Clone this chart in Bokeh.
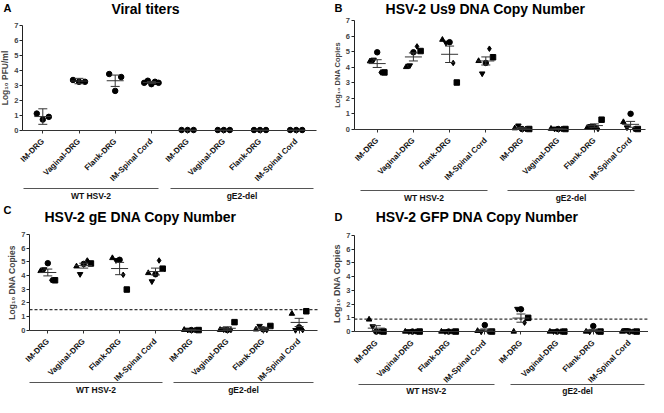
import math
from bokeh.plotting import figure
from bokeh.layouts import column, row
from bokeh.models import Label, ColumnDataSource, FixedTicker, LinearAxis
from bokeh.embed import file_html
from bokeh.resources import INLINE

FONT = "Liberation Sans"

# ---------------- data ----------------
categories = ["IM-DRG", "Vaginal-DRG", "Flank-DRG", "IM-Spinal Cord",
              "IM-DRG", "Vaginal-DRG", "Flank-DRG", "IM-Spinal Cord"]
groups = ["WT HSV-2", "gE2-del"]
y_ticks = [0, 1, 2, 3, 4, 5, 6, 7]
animal_markers = ["triangle", "inverted_triangle", "circle", "diamond", "square"]

titles = ["Viral titers", "HSV-2 Us9 DNA Copy Number",
          "HSV-2 gE DNA Copy Number", "HSV-2 GFP DNA Copy Number"]
letters = ["A", "B", "C", "D"]
y_labels = ["Log\u2081\u2080 PFU/ml", "Log\u2081\u2080 DNA Copies",
            "Log\u2081\u2080 DNA Copies", "Log\u2081\u2080 DNA Copies"]

# Panel A: viral titers (circles)
a_values = [[1.1, 0.7, 0.88], [3.35, 3.23, 3.23], [3.75, 2.62, 3.55],
            [3.16, 3.3, 3.07, 3.23, 3.16],
            [0, 0, 0], [0, 0, 0], [0, 0, 0], [0, 0, 0]]
a_mean = [0.9, 3.28, 3.3, 3.18, 0, 0, 0, 0]
a_err = [0.52, 0.18, 0.38, 0.07, 0, 0, 0, 0]

# Panel B: Us9 copies (per animal: triangle, inv. triangle, circle, diamond, square)
b_values = [[4.37, 4.47, 4.95, 3.65, 3.65], [4.0, 4.1, 4.95, 5.33, 5.03],
            [5.76, 5.56, 5.6, 4.26, 3.0], [4.39, 3.58, 4.26, 5.18, 4.63],
            [0.05, 0.22, 0.0, 0.0, 0.0], [0.02, 0.02, 0.0, 0.0, 0.0],
            [0.08, 0.18, 0.12, 0.0, 0.6], [0.45, 0.1, 0.98, 0.0, 0.0]]
b_mean = [4.22, 4.65, 4.82, 4.39, 0.05, 0.01, 0.22, 0.3]
b_err = [0.25, 0.26, 0.53, 0.26, 0.04, 0.01, 0.11, 0.19]

# Panel C: gE copies
c_values = [[4.33, 4.45, 4.9, 3.65, 3.65], [4.67, 4.1, 4.85, 5.1, 4.88],
            [5.28, 5.12, 5.15, 4.05, 2.97], [4.18, 3.57, 4.09, 5.1, 4.5],
            [0.02, 0.02, 0.0, 0.0, 0.0], [0.02, 0.05, 0.0, 0.0, 0.58],
            [0.05, 0.3, 0.05, 0.0, 0.3], [1.2, 0.0, 0.2, 0.0, 1.38]]
c_mean = [4.22, 4.72, 4.51, 4.29, 0.01, 0.13, 0.14, 0.56]
c_err = [0.25, 0.18, 0.45, 0.25, 0.01, 0.11, 0.07, 0.3]
c_cutoff = 1.5

# Panel D: GFP copies
d_values = [[0.88, 0.38, 0.0, 0.0, 0.0], [0.0, 0.02, 0.0, 0.0, 0.0],
            [0.0, 0.02, 0.0, 0.0, 0.0], [0.05, 0.0, 0.47, 0.0, 0.0],
            [0.0, 1.65, 1.62, 0.65, 1.0], [0.0, 0.02, 0.0, 0.0, 0.0],
            [0.0, 0.0, 0.4, 0.0, 0.0], [0.0, 0.1, 0.0, 0.0, 0.0]]
d_mean = [0.25, 0.0, 0.0, 0.1, 0.98, 0.0, 0.08, 0.02]
d_err = [0.18, 0.0, 0.0, 0.09, 0.3, 0.0, 0.08, 0.02]
d_cutoff = 0.9

# ---------------- layout: positions measured on the 664x413 design ----------------
# ox/oy: design origin of the panel, sx/sy: design->canvas scale, w/h: canvas size
layouts = [
    dict(ox=0, oy=0, sx=1.0, sy=1.0, w=332, h=203, yaxis=22, tick1=42.3, step=36.2,
         xend=316, y7=25, y0=129.5, title=(145, 8.5), letter=(3, 7.5), gline=188,
         glabel=196, wt=(23, 158), ge=(170, 313), ylab=8.5),
    dict(ox=332, oy=0, sx=1.0, sy=1.0, w=316, h=203, yaxis=353.5, tick1=376.7, step=36.2,
         xend=645, y7=20, y0=128.5, title=(485, 8.5), letter=(334, 7.5), gline=190,
         glabel=197, wt=(360, 487), ge=(507, 634), ylab=7.5),
    dict(ox=0, oy=205, sx=1.0, sy=194 / 208, w=332, h=194, yaxis=29, tick1=47.3,
         step=35.9, xend=317, y7=238.3, y0=340.7, title=(140, 220), letter=(3, 212),
         gline=397, glabel=403, wt=(29, 162), ge=(173, 313), ylab=8.5),
    dict(ox=332, oy=205, sx=316 / 332, sy=194 / 208, w=316, h=194, yaxis=355, tick1=378,
         step=38, xend=664, y7=239.3, y0=342.3, title=(484, 220), letter=(334, 220),
         gline=399, glabel=406, wt=(359, 502), ge=(519, 660), ylab=9),
]


def build(i, values, means, errs, use_animal_markers, cutoff):
    L = layouts[i]

    def cx(ref_x):
        return (ref_x - L["ox"]) * L["sx"]

    def cy(ref_y):
        return (ref_y - L["oy"]) * L["sy"]

    ppx = L["step"] * L["sx"]
    t1 = cx(L["tick1"])
    y7 = cy(L["y7"])
    y0p = cy(L["y0"])
    ppy = (y0p - y7) / 7.0

    def lx(local):
        return 1 + (local - t1) / ppx

    def ly(local):
        return (y0p - local) / ppy

    def dx(ref_x):
        return lx(cx(ref_x))

    def dy(ref_y):
        return ly(cy(ref_y))

    x_start, x_end = lx(0), lx(L["w"])
    y_start, y_end = ly(L["h"]), ly(0)

    p = figure(width=L["w"], height=L["h"], x_range=(x_start, x_end),
               y_range=(y_start, y_end), output_backend="svg", toolbar_location=None,
               x_axis_location=None, y_axis_location=None, min_border=0)
    p.outline_line_color = None
    p.grid.visible = False
    p.background_fill_color = "white"
    p.border_fill_color = "white"

    yaxis_pos = dx(L["yaxis"])
    axis_end = min(dx(L["xend"]), x_end)
    pos = list(range(1, len(categories) + 1))

    # y axis
    yax = LinearAxis(fixed_location=yaxis_pos, bounds=(0, 7),
                     ticker=FixedTicker(ticks=y_ticks))
    yax.minor_tick_line_color = None
    yax.major_tick_in = 0
    yax.major_tick_out = 3
    yax.major_label_standoff = 1
    yax.axis_label = y_labels[i]
    yax.axis_label_standoff = 1
    yax.axis_label_text_font = FONT
    yax.axis_label_text_font_style = "bold"
    yax.axis_label_text_font_size = f"{L['ylab']}px"
    yax.major_label_text_font = FONT
    yax.major_label_text_font_style = "bold"
    yax.major_label_text_font_size = "7.5px"
    yax.axis_line_color = "#222222"
    yax.major_tick_line_color = "#222222"
    p.add_layout(yax, "left")

    # x axis with category labels
    xax = LinearAxis(fixed_location=0, bounds=(yaxis_pos, axis_end),
                     ticker=FixedTicker(ticks=pos),
                     major_label_overrides={k: c for k, c in zip(pos, categories)})
    xax.major_label_orientation = math.pi / 4
    xax.minor_tick_line_color = None
    xax.major_tick_in = 0
    xax.major_tick_out = 3
    xax.major_label_standoff = 7
    xax.major_label_text_font = FONT
    xax.major_label_text_font_style = "bold"
    xax.major_label_text_font_size = "8px"
    xax.major_label_text_color = "#111111"
    xax.axis_line_color = "#333333"
    xax.axis_line_width = 1.2
    xax.major_tick_line_color = "#333333"
    p.add_layout(xax, "below")

    # group axes (line + label)
    gy = dy(L["gline"])
    for gname, (ga, gb) in zip(groups, [L["wt"], L["ge"]]):
        a, b = max(dx(ga), yaxis_pos), min(dx(gb), x_end)
        mid = round((a + b) / 2, 3)
        gax = LinearAxis(fixed_location=gy, bounds=(a, b), ticker=FixedTicker(ticks=[mid]),
                         major_label_overrides={mid: gname})
        gax.minor_tick_line_color = None
        gax.major_tick_line_color = None
        gax.major_tick_in = 0
        gax.major_tick_out = 0
        gax.major_label_standoff = 2
        gax.major_label_text_font = FONT
        gax.major_label_text_font_style = "bold"
        gax.major_label_text_font_size = "8.5px"
        gax.major_label_text_color = "#111111"
        gax.axis_line_color = "#555555"
        gax.axis_line_width = 1
        p.add_layout(gax, "below")

    # cutoff line (from the y axis to the end of the x axis)
    if cutoff is not None:
        p.segment(x0=[yaxis_pos], y0=[cutoff], x1=[axis_end], y1=[cutoff],
                  line_color="#333333", line_width=1.3, line_dash="3 2")

    # scatter points
    xs, ys, ms = [], [], []
    for k, vals in enumerate(values):
        n = len(vals)
        step = (6.0 if n <= 3 else 3.6) / ppx
        for j, v in enumerate(vals):
            xs.append(pos[k] + (j - (n - 1) / 2) * step)
            ys.append(v)
            ms.append(animal_markers[j] if use_animal_markers else "circle")
    src = ColumnDataSource(dict(x=xs, y=ys, m=ms))
    p.scatter("x", "y", marker="m", source=src, size=5.5, fill_color="black",
              line_color="black")

    # mean +/- SEM
    mh = 8.5 / ppx
    ch = 4.5 / ppx
    p.segment(x0=[v - mh for v in pos], y0=means, x1=[v + mh for v in pos], y1=means,
              line_color="#333333", line_width=1)
    bx = [pos[k] for k in range(len(pos)) if errs[k] > 0]
    lo = [means[k] - errs[k] for k in range(len(pos)) if errs[k] > 0]
    hi = [means[k] + errs[k] for k in range(len(pos)) if errs[k] > 0]
    p.segment(x0=bx, y0=lo, x1=bx, y1=hi, line_color="#333333", line_width=1)
    p.segment(x0=[v - ch for v in bx] * 2, y0=lo + hi, x1=[v + ch for v in bx] * 2,
              y1=lo + hi, line_color="#333333", line_width=1)

    # title and panel letter
    tx, ty = L["title"]
    p.add_layout(Label(x=dx(tx), y=dy(ty), text=titles[i],
                       text_align="center", text_baseline="middle", text_font=FONT,
                       text_font_style="bold", text_font_size="14px", text_color="black"))
    lxr, lyr = L["letter"]
    p.add_layout(Label(x=max(dx(lxr), x_start), y=dy(lyr), text=letters[i],
                       text_align="left", text_baseline="middle", text_font=FONT,
                       text_font_style="bold", text_font_size="11px", text_color="black"))
    return p


pA = build(0, a_values, a_mean, a_err, False, None)
pB = build(1, b_values, b_mean, b_err, True, None)
pC = build(2, c_values, c_mean, c_err, True, c_cutoff)
pD = build(3, d_values, d_mean, d_err, True, d_cutoff)

layout = column(row(pA, pB, spacing=0), row(pC, pD, spacing=0), spacing=0)
open("out.html", "w").write(file_html(layout, INLINE))
